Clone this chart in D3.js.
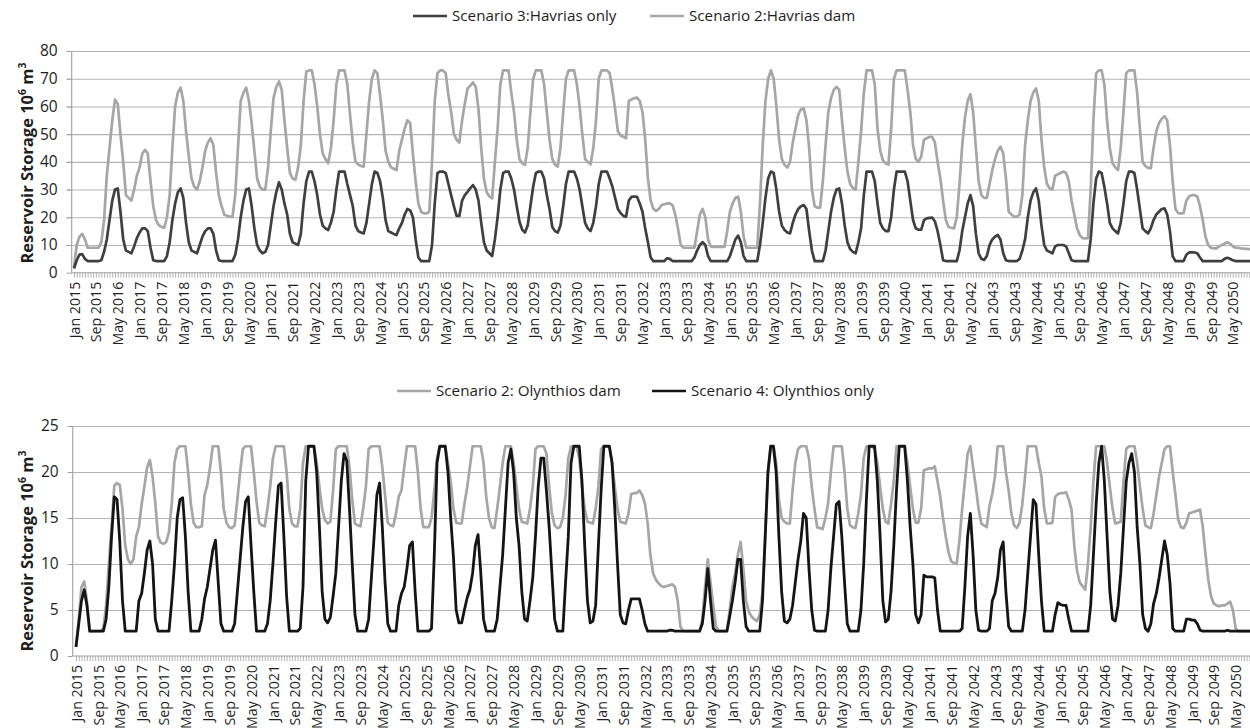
<!DOCTYPE html>
<html><head><meta charset="utf-8">
<script src="https://cdn.jsdelivr.net/npm/d3@7"></script>
<style>
body{margin:0;background:#fff}
svg{display:block}
text{font-family:'Open Sans',sans-serif;fill:#1e1e1e}
</style>
</head><body>
<svg id="c" width="1250" height="728"></svg>
<script>
// Monthly series, Jan 2015 .. Dec 2050 (one row per year)
const tickLabels = ["Jan 2015","Sep 2015","May 2016","Jan 2017","Sep 2017","May 2018","Jan 2019","Sep 2019","May 2020",
"Jan 2021","Sep 2021","May 2022","Jan 2023","Sep 2023","May 2024","Jan 2025","Sep 2025","May 2026","Jan 2027","Sep 2027",
"May 2028","Jan 2029","Sep 2029","May 2030","Jan 2031","Sep 2031","May 2032","Jan 2033","Sep 2033","May 2034","Jan 2035",
"Sep 2035","May 2036","Jan 2037","Sep 2037","May 2038","Jan 2039","Sep 2039","May 2040","Jan 2041","Sep 2041","May 2042",
"Jan 2043","Sep 2043","May 2044","Jan 2045","Sep 2045","May 2046","Jan 2047","Sep 2047","May 2048","Jan 2049","Sep 2049","May 2050"];
const labelEvery = 8;

const topYTicks = [0,10,20,30,40,50,60,70,80];
const bottomYTicks = [0,5,10,15,20,25];

// Scenario 3: Havrias only
const havriasOnly = [
1.5,4.5,6.5,6.7,5,4.2,4.2,4.2,4.2,4.2,4.5,7.5,
12,19,26,30,30.4,22,12,8,7.5,7,9.5,12.5,
14.5,16,16,15,9,4.5,4.2,4.2,4.2,4.2,6,11,
19,25,29,30.4,27,18,11,8,7.5,7,10,13,
15,16,16,14,8,4.5,4.2,4.2,4.2,4.2,4.2,6.5,
12,20,26,30,30.4,24,16,10,8,7,7.5,10,
17,24,29,32.6,30,25,21,14,11,10.5,10,14,
25,33,36.5,36.5,33,28,21,17,16,15.4,18,22,
30,36.5,36.5,36.5,32,28,24,17,15,14.5,14.2,18,
25,32,36.5,36,33,27,19,15,14.5,14,13.6,16,
18,21,23,22.5,20,12,5.5,4.2,4.2,4.2,4.2,10,
25,36,36.5,36.5,36,32,28,24,20.5,20.5,26,28,
29.2,30.5,31.6,30,26,18,11,8,7,6,12,20,
30,36,36.5,36.5,34,30,24,18.4,15.5,14.5,17,24,
31,36,36.5,36.5,34,28,23,16.5,15,14.5,17,24,
32,36.5,36.5,36.5,34,30,24,18,16,15,18,24,
32,36.5,36.5,36.5,34,31,27,23,21.5,20.5,20.2,26,
27.4,27.5,27.4,25,22,16,11,5.5,4.2,4.2,4.2,4.2,
4.2,5.2,5,4.2,4.2,4.2,4.2,4.2,4.2,4.2,4.2,5.5,
8,10,11,10,6,4.2,4.2,4.2,4.2,4.2,4.2,4.2,
6,9,12,13.4,11,6,4.2,4.2,4.2,4.2,4.2,10,
18,27,34,36.5,36,30,22,17,15.4,14.5,14.2,18,
21,23,24,24.4,23,15,8,4.2,4.2,4.2,4.2,8,
15,22,27,30,30.4,25,17,11,8.5,7.5,7,11,
16,28,36.5,36.5,36.5,33,25,18,16,15,15,20,
30,36.5,36.5,36.5,36.5,33,26,19,16,15.5,15.5,19,
19.6,19.8,19.9,18.5,15,10,4.5,4.2,4.2,4.2,4.2,4.2,
8,15,20,25,28,24,14,7,5,4.6,6,10,
12,13,13.6,12,7,4.5,4.2,4.2,4.2,4.2,5,8,
12,20,26,29,30.4,26,17,10,8,7.5,7,9.5,
10,10,10,9.5,7,4.5,4.2,4.2,4.2,4.2,4.2,4.2,
12,25,34,36.5,36,31,25,18,16,15,14.2,18,
25,33,36.5,36.5,36,30,23,16,15,14.2,16,19,
21,22,23,23.2,21,15,6,4.2,4.2,4.2,4.2,6.5,
7.3,7.3,7.3,7,5.5,4.2,4.2,4.2,4.2,4.2,4.2,4.2,
4.2,5,5.4,5,4.5,4.2,4.2,4.2,4.2,4.2,4.2,4.2];

// Scenario 2: Havrias dam
const havriasDam = [
2,10,13,14,12,9,9,9,9,9,11,19,
35,45,55,62.5,61,50,40,28,27,26,30,35,
38,43,44.3,43,33,24,19,17.2,16.5,16.2,20,28,
45,60,65,66.8,62,51,42,34,31,30,33,38,
44,47,48.5,46,36,28,24,21,20.5,20.2,20.2,28,
45,62,65,66.8,62,54,44,34,31,30,30,38,
51,63,67,69,66,55,45,36,34,33.5,38,46,
62,72.6,73,73,68,60,50,43,41,39.5,45,55,
68,73,73,73,68,57,47,40,39,38.5,38.3,50,
62,70,73,72,64,55,44,40,38,37.5,37,44,
48,52,55,54,43,33,25,22,21.4,21.4,22,40,
62,72,73,73,72,64,58,50,48,47,55,61,
66.5,67.5,68.7,67,59,45,34,29,27.5,26.8,40,52,
68,73,73,73,65,58,48,41,39.5,38.9,45,58,
70,73,73,73,68,58,48,41,39,38.3,45,58,
70,73,73,73,68,60,50,41,40,39.1,45,55,
70,73,73,73,72,66,59,51,49.5,49,48.5,62,
62.5,63,63.2,62,58,48,34,26,23,22.3,23,24.4,
24.7,25,25,24.4,21,16,10,9,9,9,9,9,
15,21,23,20,12,9.5,9.3,9.3,9.3,9.3,9.3,15,
22,25,27,27.4,22,13,9,9,9,9,9,25,
46,62,70,73,70,60,48,41,38.9,37.9,40,47,
52,57,59,59.3,55,45,30,24,23.5,23.5,33,46,
58,63,66,67,66,55,45,36.5,32,30.5,30,40,
51,65,73,73,73,68,52,44,40.5,39.5,39,52,
70,73,73,73,73,66,58,46,41,40,42,48,
48.5,49,49,47,40,34,26,19,16.5,16.2,16,20,
32,46,56,62,64.4,58,45,33,28,27,27,32,
37,41,44,45.5,43,34,22,21,20.2,20.2,21,28,
46,55,62,65,66.5,62,48,38,32,30.5,30,35,
35.5,36,36.5,36,33,26,21,16,13.6,12.5,12.4,12.5,
30,55,72,73,73,68,55,45,39.5,38,37,45,
58,72,73,73,73,65,52,40,38.5,37.8,37.7,45,
51,54,55.5,56.5,55,46,33,23,21.5,21.4,21.5,26,
27.5,28,28,27.5,24,19,13,10,9,8.8,8.8,9.5,
10,10.5,11,10.5,9.5,9,9,8.8,8.7,8.6,8.5,8.5];

// Scenario 2: Olynthios dam
const olynthiosDam = [
1.0,4,7.5,8.1,6,2.7,2.7,2.7,2.7,2.7,3,5.5,
10,14,18.5,18.8,18.6,16,12,10.5,10,10.5,13,14,
16.5,18.4,20.5,21.3,19.5,16.6,13,12.3,12.2,12.4,13.5,16.5,
21,22.5,22.8,22.8,22.8,20,16.5,14.5,14,14,14.1,17.5,
18.6,20.5,22.8,22.8,22.8,20,16,14.5,14,13.9,14.2,17,
20,22.5,22.8,22.8,22.8,20,16.8,14.5,14.2,14.1,16,18.4,
21.5,22.8,22.8,22.8,22.8,20,16,14.4,14.1,14.1,16,21,
22.8,22.8,22.8,22.8,21,18.4,16,14.8,14.4,14.6,18,22.5,
22.8,22.8,22.8,22.8,20.5,17,14.4,14.2,14.1,16,18.4,22.5,
22.8,22.8,22.8,22.8,20.5,17.5,14.5,14.2,14.1,15.5,17.3,18,
20.5,22.8,22.8,22.8,22.8,20,16,14,14,14,15,18,
21.5,22.8,22.8,22.8,21,19,16,14.5,14.4,14.4,16.5,18.3,
20.5,22.8,22.8,22.8,22.8,21,17.3,15,14,13.9,16,18.4,
21,22.8,22.8,22.8,21,18.5,16,14.6,14.5,14.4,16,18.4,
22.5,22.8,22.8,22.8,22,18.4,15.5,14.2,13.9,14,15,17.5,
21.5,22.8,22.8,22.8,21.5,18.5,16,14.6,14.5,14.4,16,18.4,
22.5,22.8,22.8,22.8,21,18.4,16,14.6,14.5,14.4,15.5,17.6,
17.7,17.7,18,17.5,16.6,14.5,11,9,8.3,7.9,7.6,7.5,
7.6,7.7,7.8,7.5,6,3.2,2.7,2.7,2.7,2.7,2.7,2.7,
2.7,4,7.5,10.5,8,5.5,3.2,2.7,2.7,2.7,2.7,5,
7.5,9,11,12.4,9.5,6,4.8,4.3,4,3.8,4.5,7,
13,20,22.8,22.8,21,17,15,14.6,14.4,14.4,18,21,
22.5,22.8,22.8,22.8,21.5,18.4,16,14,13.9,13.8,15,16.6,
20,22.8,22.8,22.8,22.8,20,16,14.2,14,13.9,15.5,17.5,
21.5,22.8,22.8,22.8,22.5,21,18.4,16,14.6,14.4,16.5,19,
22.8,22.8,22.8,22.8,21,18.4,16,14.5,14.5,16,20.2,20.3,
20.4,20.4,20.6,19,17.3,15,13,11.3,10.3,10.1,10,12.5,
16,19,22,22.8,20.5,18.4,16,14.4,14.2,14,16.3,17.6,
19.5,22.8,22.8,22.8,20,18,15.5,14.2,13.9,14.5,16.5,19.5,
22.8,22.8,22.8,22.8,21,19.5,16,14.4,14.4,14.5,17.3,17.6,
17.7,17.7,17.8,17,15.9,12,9.3,8,7.6,7.2,10,14,
19,22.8,22.8,22.8,22.8,21,18.4,16,14.4,14.5,14.6,19,
22.5,22.8,22.8,22.8,21,18.4,16,14.2,14,13.9,15.5,17.5,
19.5,21,22.5,22.8,22.8,20,17.5,14.8,14,13.9,14.5,15.5,
15.6,15.7,15.8,15.9,14,11,8.3,6.5,5.7,5.5,5.4,5.5,
5.5,5.7,5.9,5,3,2.7,2.7,2.7,2.7,2.7,2.7,2.7];

// Scenario 4: Olynthios only
const olynthiosOnly = [
1.0,3.5,6,7.2,5.5,2.7,2.7,2.7,2.7,2.7,2.7,4,
7.5,13,17.3,17,12.5,6,2.7,2.7,2.7,2.7,2.7,6,
6.8,9,11.5,12.5,10,4,2.7,2.7,2.7,2.7,2.7,6,
10,15,17,17.2,13,7,2.7,2.7,2.7,2.7,4,6.2,
7.5,9.5,11.5,12.6,8,3.5,2.7,2.7,2.7,2.7,3.5,7,
10.5,14,16.8,17.3,12,7,2.7,2.7,2.7,2.7,3.5,6,
10,14.5,18.5,18.8,13,6.5,2.7,2.7,2.7,2.7,3,7.5,
19,22.8,22.8,22.8,20,14,7,4,3.6,4.2,6.5,9,
14,19,22,21.2,16,10,4.5,2.7,2.7,2.7,2.7,4,
8.5,13,17.5,18.8,14,8,3.5,2.7,2.7,2.7,5.5,6.8,
7.5,9.5,12,12.4,7,2.7,2.7,2.7,2.7,2.7,3,11,
21,22.8,22.8,22.8,20,15,10.8,5,3.6,3.6,5,6.3,
7.2,9,12,13.2,9,4,2.7,2.7,2.7,2.7,4,7.5,
11,16,21,22.5,20,15,12,7,4,3.8,6,8.5,
13,18.4,21.5,21.5,18,14,9,4,2.7,2.7,2.7,8,
13,21,22.8,22.8,22.8,19,12,6,3.6,3.8,5.5,12,
18,22.8,22.8,22.8,21,16,10,4.5,3.6,3.5,5,6.2,
6.2,6.2,6.2,5,3.5,2.7,2.7,2.7,2.7,2.7,2.7,2.7,
2.7,2.8,2.8,2.7,2.7,2.7,2.7,2.7,2.7,2.7,2.7,2.7,
2.7,3.5,6,9.5,6,3,2.7,2.7,2.7,2.7,2.7,4.3,
6,8,10.5,10.5,6,3.2,2.7,2.7,2.7,2.7,2.7,6,
13,20,22.8,22.8,20,13,7,3.8,3.6,4,5.5,8,
10.5,12.5,15.5,15,9.5,5,2.8,2.7,2.7,2.7,2.7,5,
9.5,13,16.5,16.8,13,8,3.5,2.7,2.7,2.7,2.7,5,
10,17,22.8,22.8,22.8,19,13,6,3.7,4,7,12,
18,22.8,22.8,22.8,19,14,10,4.5,3.6,4.5,8.8,8.6,
8.6,8.6,8.5,5,2.7,2.7,2.7,2.7,2.7,2.7,2.7,2.7,
3,7.5,13,15.5,11,5,2.8,2.7,2.7,2.7,3,6,
6.8,8.5,11.5,12.4,7,3.2,2.7,2.7,2.7,2.7,2.7,5,
9,13,17,16.5,11,6,2.7,2.7,2.7,2.7,4.5,5.8,
5.6,5.5,5.5,4,2.7,2.7,2.7,2.7,2.7,2.7,2.7,5.5,
11,16.5,21,22.8,19,13,7,4,3.8,5.5,9,14,
19,21,22,20,14,10,4.5,3,2.7,3.5,5.7,6.8,
8.5,10.5,12.5,11,7.9,3,2.7,2.7,2.7,2.7,4,4,
3.9,3.9,3.5,2.8,2.7,2.7,2.7,2.7,2.7,2.7,2.7,2.7,
2.7,2.8,2.7,2.7,2.7,2.7,2.7,2.7,2.7,2.7,2.7,2.7];

const W = 1250;
const panels = [
  { top: 51, bottom: 272.7, left: 71.7, x0: 74, step: 2.733, yMax: 80, yTicks: topYTicks,
    titleY: 163, legendY: 16,
    legend: [ {label: "Scenario 3:Havrias only", color: "#3f3f3f", x: 413},
              {label: "Scenario 2:Havrias dam", color: "#a6a6a6", x: 650} ],
    series: [ {data: havriasDam, color: "#a6a6a6", w: 2.7}, {data: havriasOnly, color: "#3f3f3f", w: 2.7} ] },
  { top: 426, bottom: 656, left: 72.7, x0: 76, step: 2.735, yMax: 25, yTicks: bottomYTicks,
    titleY: 551, legendY: 391,
    legend: [ {label: "Scenario 2: Olynthios dam", color: "#a6a6a6", x: 397},
              {label: "Scenario 4: Olynthios only", color: "#141414", x: 652} ],
    series: [ {data: olynthiosDam, color: "#a6a6a6", w: 2.7}, {data: olynthiosOnly, color: "#141414", w: 2.8} ] }
];

const svg = d3.select("#c");

panels.forEach(p => {
  const N = p.series[0].data.length;
  const x = d3.scaleLinear().domain([0, N - 1]).range([p.x0, p.x0 + (N - 1) * p.step]);
  const y = d3.scaleLinear().domain([0, p.yMax]).range([p.bottom, p.top]);
  const g = svg.append("g");

  // gridlines
  g.append("g").attr("transform", `translate(${p.left - 5},0)`)
    .call(d3.axisLeft(y).tickValues(p.yTicks.filter(v => v > 0)).tickSize(-(W + 20 - p.left)).tickFormat(""))
    .call(s => { s.select(".domain").remove(); s.selectAll("line").attr("stroke", "#b4b4b4").attr("stroke-width", 1.1); });

  // y axis labels
  g.append("g").attr("transform", `translate(${p.left},0)`)
    .call(d3.axisLeft(y).tickValues(p.yTicks).tickSize(5).tickPadding(9))
    .call(s => {
      s.select(".domain").remove();
      s.selectAll("line").attr("stroke", "#a0a0a0");
      s.selectAll("text").attr("font-size", 15.5).attr("font-family", "'Open Sans',sans-serif").attr("fill", "#222");
    });
  g.append("line").attr("x1", p.left).attr("x2", p.left).attr("y1", p.top).attr("y2", p.bottom)
    .attr("stroke", "#a0a0a0").attr("stroke-width", 1.1);

  // x axis minor (monthly) ticks
  g.append("g").attr("transform", `translate(0,${p.bottom})`)
    .call(d3.axisBottom(x).tickValues(d3.range(N)).tickSize(5).tickFormat(""))
    .call(s => { s.select(".domain").remove(); s.selectAll("line").attr("stroke", "#a0a0a0").attr("stroke-width", 0.8); });
  g.append("line").attr("x1", p.left).attr("x2", W + 10).attr("y1", p.bottom).attr("y2", p.bottom)
    .attr("stroke", "#a0a0a0").attr("stroke-width", 1.1);

  // x labels
  g.append("g").attr("transform", `translate(0,${p.bottom})`)
    .call(d3.axisBottom(x).tickValues(d3.range(0, N, labelEvery).slice(0, tickLabels.length)).tickSize(0)
      .tickFormat((d, i) => tickLabels[i]))
    .call(s => {
      s.select(".domain").remove();
      s.selectAll("text").attr("transform", "rotate(-90)").attr("text-anchor", "end")
        .attr("x", -9).attr("y", 0).attr("dy", "0.36em")
        .attr("font-size", 14.2).attr("font-family", "'Open Sans',sans-serif").attr("fill", "#222");
    });

  // series
  const line = d3.line().x((d, i) => x(i)).y(d => y(d));
  p.series.forEach(s => {
    g.append("path").datum(s.data).attr("d", line).attr("fill", "none")
      .attr("stroke", s.color).attr("stroke-width", s.w).attr("stroke-linejoin", "round");
  });

  // y title
  const t = g.append("text").attr("transform", `translate(33,${p.titleY}) rotate(-90)`)
    .attr("text-anchor", "middle").attr("font-weight", "bold").attr("font-size", 16.5);
  t.append("tspan").text("Reservoir Storage 10");
  t.append("tspan").attr("font-size", 10.5).attr("dy", -7).text("6");
  t.append("tspan").attr("dy", 7).text(" m");
  t.append("tspan").attr("font-size", 10.5).attr("dy", -7).text("3");

  // legend
  p.legend.forEach(l => {
    g.append("line").attr("x1", l.x).attr("x2", l.x + 34).attr("y1", p.legendY).attr("y2", p.legendY)
      .attr("stroke", l.color).attr("stroke-width", 2.7);
    g.append("text").attr("x", l.x + 39).attr("y", p.legendY).attr("dy", "0.35em")
      .attr("font-size", 15.2).text(l.label);
  });
});
</script>
</body></html>
